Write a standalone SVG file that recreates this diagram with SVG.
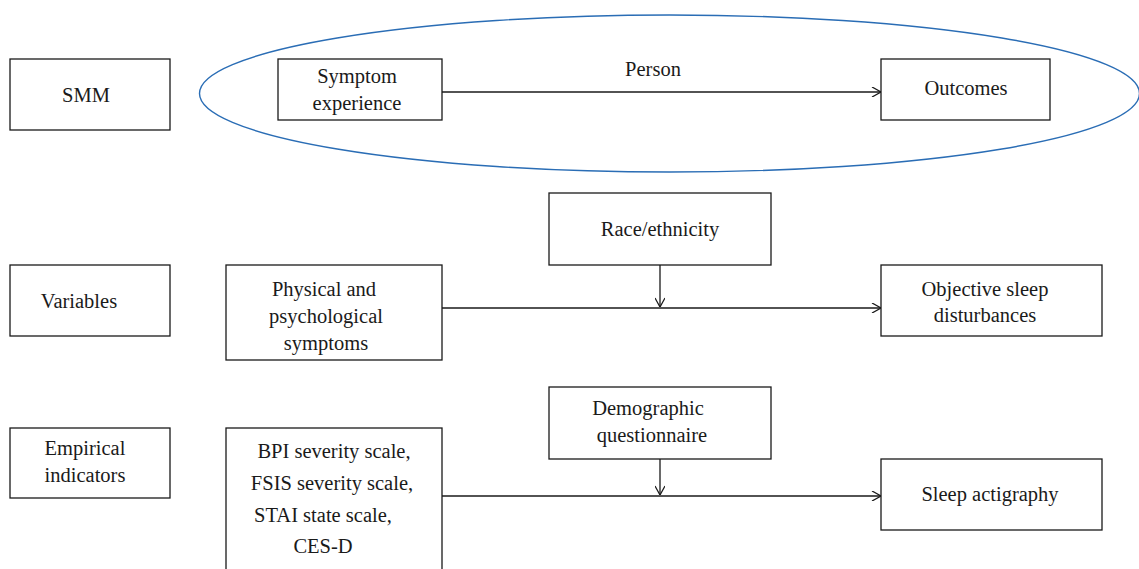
<svg xmlns="http://www.w3.org/2000/svg" width="1139" height="569" viewBox="0 0 1139 569">
<style>
.box{fill:#fff;stroke:#1a1a1a;stroke-width:1.3}
.t{font-family:"Liberation Serif","Times New Roman",serif;font-size:20.5px;fill:#1a1a1a;text-anchor:middle}
.c{fill:none;stroke:#1a1a1a;stroke-width:1.3}
</style>
<defs>
<marker id="ah" viewBox="0 0 10 10" refX="10" refY="5" markerWidth="10" markerHeight="10" markerUnits="userSpaceOnUse" orient="auto">
<path d="M1,0 L10,5 L1,10" fill="none" stroke="#1a1a1a" stroke-width="1.3"/>
</marker>
</defs>
<rect width="1139" height="569" fill="#fff"/>
<ellipse id="person-ellipse" cx="669.5" cy="93.5" rx="470" ry="78.5" fill="none" stroke="#2a6db5" stroke-width="1.4"/>
<g id="connectors">
<line class="c" x1="442" y1="92" x2="881" y2="92" marker-end="url(#ah)"/>
<line class="c" x1="442" y1="308" x2="881" y2="308" marker-end="url(#ah)"/>
<line class="c" x1="660" y1="265" x2="660" y2="307" marker-end="url(#ah)"/>
<line class="c" x1="442" y1="496" x2="881" y2="496" marker-end="url(#ah)"/>
<line class="c" x1="660" y1="459" x2="660" y2="495" marker-end="url(#ah)"/>
<text class="t" x="653" y="76">Person</text>
</g>
<g id="smm"><rect class="box" x="10" y="59" width="160" height="71"/><text class="t" x="86" y="102">SMM</text></g>
<g id="symptom-experience"><rect class="box" x="278" y="59" width="164" height="61"/><text class="t" x="357" y="83">Symptom</text><text class="t" x="357" y="110">experience</text></g>
<g id="outcomes"><rect class="box" x="881" y="59" width="169" height="61"/><text class="t" x="966" y="95">Outcomes</text></g>
<g id="race"><rect class="box" x="549" y="193" width="222" height="72"/><text class="t" x="660" y="236">Race/ethnicity</text></g>
<g id="variables"><rect class="box" x="10" y="265" width="160" height="71"/><text class="t" x="79" y="308">Variables</text></g>
<g id="physical"><rect class="box" x="226" y="265" width="216" height="95"/><text class="t" x="324" y="296">Physical and</text><text class="t" x="326" y="323">psychological</text><text class="t" x="326" y="350">symptoms</text></g>
<g id="objective-sleep"><rect class="box" x="881" y="265" width="221" height="71"/><text class="t" x="985" y="296">Objective sleep</text><text class="t" x="985" y="322">disturbances</text></g>
<g id="demographic"><rect class="box" x="549" y="387" width="222" height="72"/><text class="t" x="648" y="415">Demographic</text><text class="t" x="652" y="442">questionnaire</text></g>
<g id="empirical"><rect class="box" x="10" y="428" width="160" height="70"/><text class="t" x="85" y="455">Empirical</text><text class="t" x="85" y="482">indicators</text></g>
<g id="indicators"><rect class="box" x="226" y="428" width="216" height="150"/><text class="t" x="334" y="458">BPI severity scale,</text><text class="t" x="332" y="490">FSIS severity scale,</text><text class="t" x="323" y="522">STAI state scale,</text><text class="t" x="323" y="553">CES-D</text></g>
<g id="actigraphy"><rect class="box" x="881" y="459" width="221" height="71"/><text class="t" x="990" y="501">Sleep actigraphy</text></g>
</svg>
